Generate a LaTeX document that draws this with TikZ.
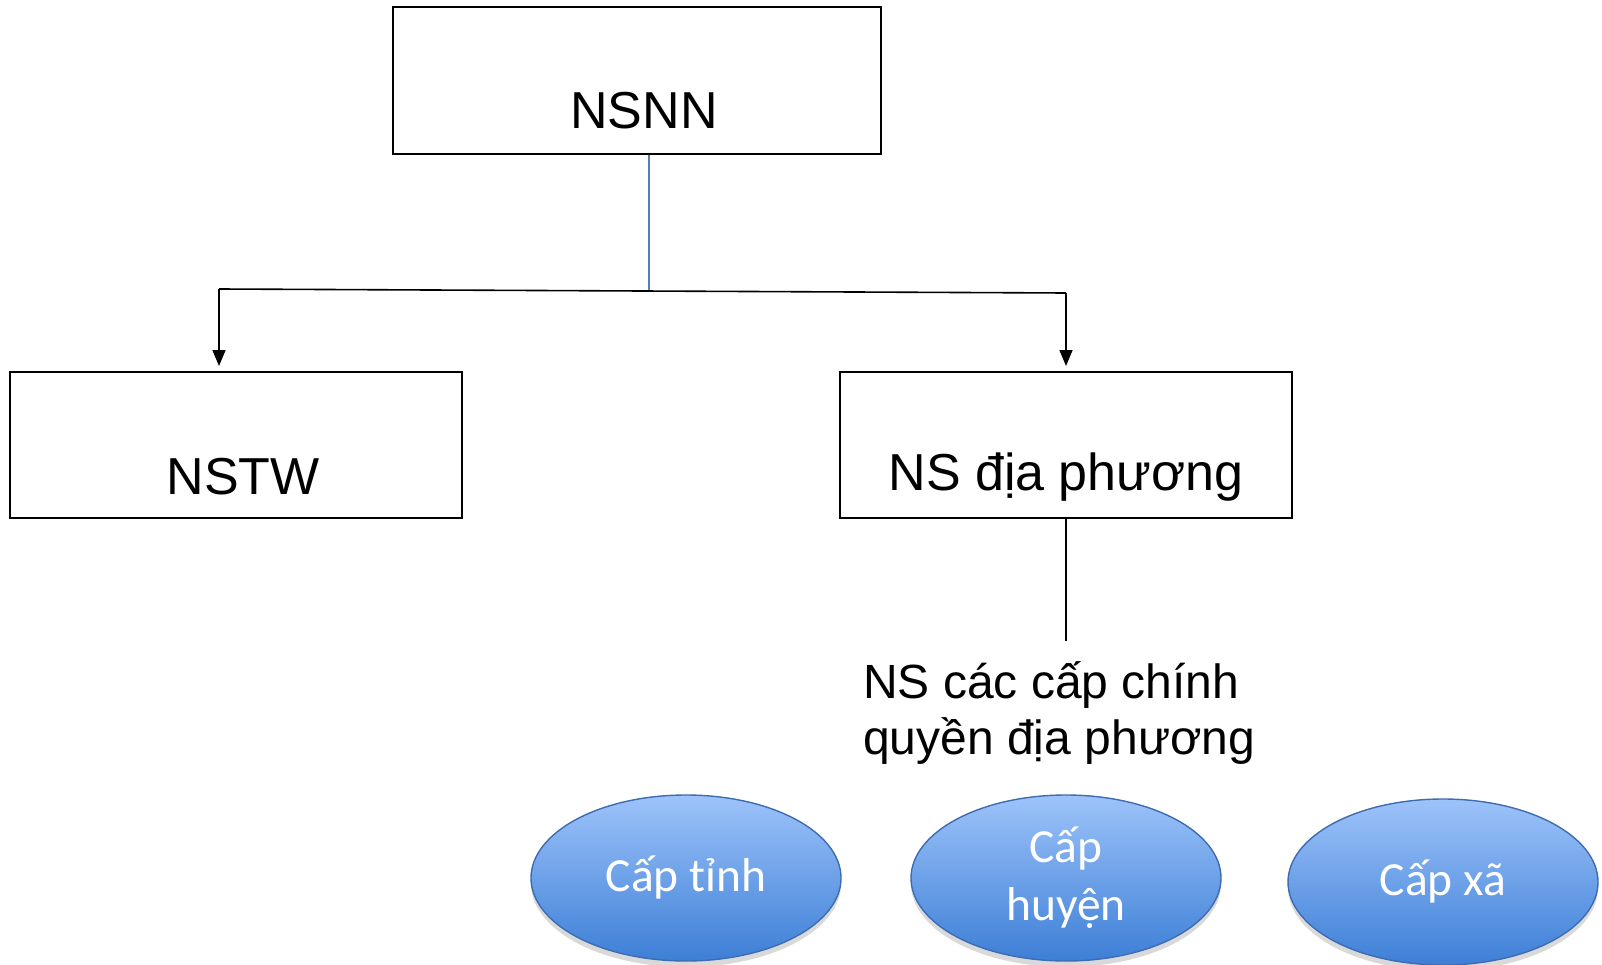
\documentclass[tikz,border=0pt]{standalone}
\usepackage{fontspec}
\setmainfont{Liberation Sans}
\newfontfamily\calib{Carlito}
\usetikzlibrary{shapes.geometric,arrows.meta,shadows}
\definecolor{ellTop}{HTML}{9DC3FA}
\definecolor{ellBot}{HTML}{3D7FD6}
\definecolor{ellBorder}{HTML}{3F6CB0}
\definecolor{blueline}{HTML}{4F81BD}
\begin{document}
\begin{tikzpicture}[x=1pt,y=-1pt,
  boxnode/.style={draw=black,line width=1.6pt,minimum width=#1,minimum height=146pt,inner sep=0pt},
  boxtext/.style={font=\fontsize{52}{62}\selectfont},
  ovalnode/.style={ellipse,draw=ellBorder,line width=1.4pt,top color=ellTop,bottom color=ellBot,minimum width=310pt,minimum height=166pt,inner sep=0pt,text=white,align=center,font=\calib\fontsize{47.5}{58}\selectfont,
    drop shadow={shadow xshift=0pt,shadow yshift=-6pt,opacity=0.25,fill=black!60}},
  conn/.style={line width=1.6pt,draw=black},
  arr/.style={conn,-{Triangle[length=16pt,width=13pt]}}]
\useasboundingbox (0,0) rectangle (1602,965);
\node[boxnode=488pt,minimum height=147pt] (nsnn) at (637,80.5) {};
\node[boxtext] (t1) at (644,111) {NSNN};
\node[boxnode=452pt] (nstw) at (236,445) {};
\node[boxtext] (t2) at (243,477) {NSTW};
\node[boxnode=452pt] (nsdp) at (1066,445) {};
\node[boxtext] (t3) at (1066,477) {NS địa phương};
\coordinate (j) at (649,291);
\coordinate (jl) at (219,289);
\coordinate (jr) at (1066,293);
\draw[blueline,line width=1.4pt] (nsnn.south -| j) -- (j);
\draw[conn] (jl) -- (jr);
\draw[arr] (jl) -- (219,366);
\draw[arr] (jr) -- (1066,366);
\node[anchor=north west,align=left,inner sep=0pt,font=\fontsize{48}{56}\selectfont] (cac) at (863,661) {NS các cấp chính\\quyền địa phương};
\coordinate (cacTop) at (1066,641);
\draw[conn] (nsdp.south) -- (cacTop);
\node[ovalnode] (tinh) at (686,878) {\raisebox{-3pt}{Cấp tỉnh}};
\node[ovalnode] (huyen) at (1066,878) {Cấp\\huyện};
\node[ovalnode] (xa) at (1443,882) {\raisebox{-3pt}{Cấp xã}};
\end{tikzpicture}
\end{document}
